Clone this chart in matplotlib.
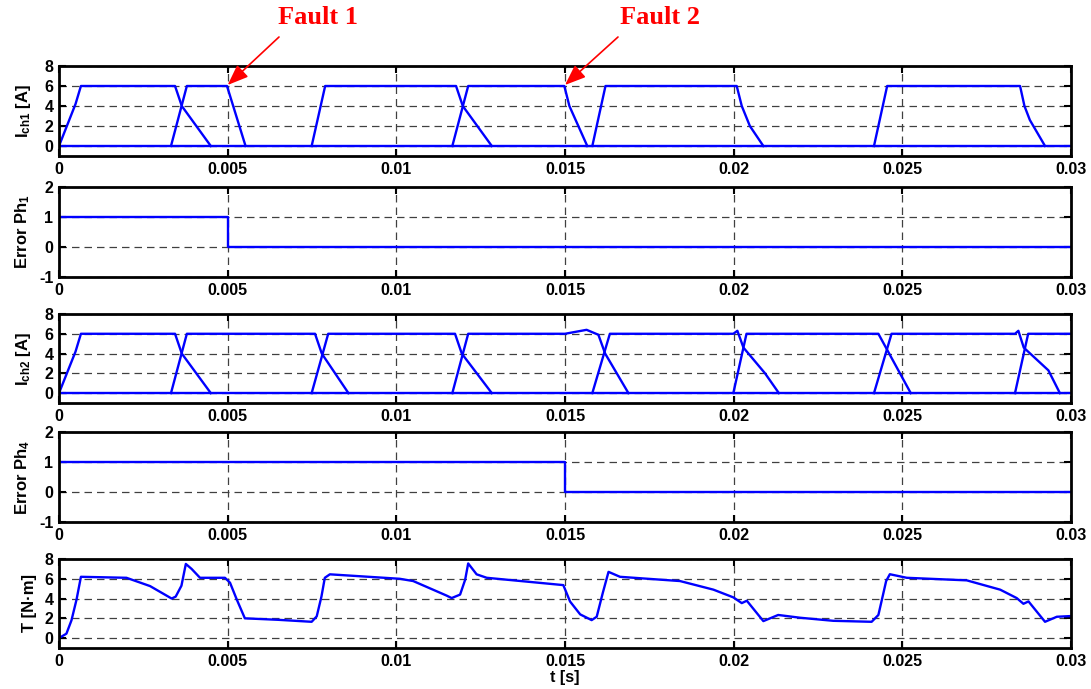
import matplotlib
matplotlib.use("Agg")
import matplotlib.pyplot as plt

plt.rcParams["font.family"] = ["Liberation Sans", "DejaVu Sans"]
plt.rcParams["font.weight"] = "bold"
plt.rcParams["axes.unicode_minus"] = False
plt.rcParams["mathtext.fontset"] = "custom"
plt.rcParams["mathtext.rm"] = "Liberation Sans:bold"
plt.rcParams["mathtext.bf"] = "Liberation Sans:bold"
plt.rcParams["mathtext.it"] = "Liberation Sans:bold"

# phase currents of channel 1 (one list per conduction pulse)
ich1_t = [
    [0, 0.00049, 0.00065, 0.00344, 0.00364, 0.0045],
    [0.00332, 0.00379, 0.00498, 0.00553],
    [0.00749, 0.00789, 0.01177, 0.01197, 0.01283],
    [0.01166, 0.01213, 0.01498, 0.01513, 0.01566],
    [0.01581, 0.0162, 0.02009, 0.02024, 0.02048, 0.02088],
    [0.02416, 0.02455, 0.02849, 0.02862, 0.02878, 0.02923],
]
ich1_i = [
    [0, 4.2, 6, 6, 4, 0],
    [0, 6, 6, 0],
    [0, 6, 6, 4, 0],
    [0, 6, 6, 4, 0],
    [0, 6, 6, 4, 2, 0],
    [0, 6, 6, 4, 2.6, 0],
]

# phase currents of channel 2
ich2_t = [
    [0, 0.00049, 0.00065, 0.00344, 0.00364, 0.0045],
    [0.00332, 0.00379, 0.00759, 0.00779, 0.00858],
    [0.00749, 0.00798, 0.01174, 0.01194, 0.01283],
    [0.01166, 0.01213, 0.015, 0.01564, 0.01599, 0.01619, 0.01688],
    [0.01581, 0.01633, 0.01999, 0.02011, 0.02029, 0.02093, 0.02134],
    [0.01999, 0.02038, 0.02429, 0.02525],
    [0.02416, 0.02468, 0.02834, 0.02844, 0.0286, 0.02933, 0.02967],
    [0.02834, 0.02873, 0.03],
]
ich2_i = [
    [0, 4.2, 6, 6, 4, 0],
    [0, 6, 6, 4, 0],
    [0, 6, 6, 4, 0],
    [0, 6, 6, 6.4, 5.9, 4, 0],
    [0, 6, 6, 6.3, 4.6, 2.0, 0],
    [0, 6, 6, 0],
    [0, 6, 6, 6.3, 4.6, 2.3, 0],
    [0, 6, 6],
]

# error flags
err1_t = [0, 0.005, 0.005, 0.03]
err1 = [1, 1, 0, 0]
err4_t = [0, 0.015, 0.015, 0.03]
err4 = [1, 1, 0, 0]

# torque
torque_t = [0, 0.00022, 0.00037, 0.00052, 0.00065, 0.002, 0.0027, 0.00334, 0.00346,
            0.00363, 0.00376, 0.00393, 0.00418, 0.00492, 0.00507, 0.00527, 0.00551,
            0.0065, 0.00749, 0.00764, 0.00778, 0.00788, 0.00803, 0.0101, 0.0105,
            0.01149, 0.01164, 0.01189, 0.01204, 0.01213, 0.01238, 0.01268, 0.01495,
            0.01515, 0.01545, 0.01579, 0.01594, 0.01612, 0.01629, 0.01663, 0.01841,
            0.0194, 0.01999, 0.02024, 0.02039, 0.02088, 0.02132, 0.02197, 0.02295,
            0.02409, 0.02429, 0.02444, 0.02452, 0.02463, 0.02513, 0.02691, 0.0279,
            0.02839, 0.02859, 0.02874, 0.02923, 0.02958, 0.03]
torque = [0, 0.45, 1.8, 3.9, 6.2, 6.1, 5.26, 4.0, 4.2,
          5.3, 7.5, 7.0, 6.1, 6.1, 5.6, 3.9, 2.0,
          1.85, 1.65, 2.2, 4.2, 6.1, 6.45, 6.0, 5.77,
          4.3, 4.05, 4.4, 5.9, 7.55, 6.45, 6.1, 5.36,
          3.7, 2.4, 1.82, 2.16, 4.57, 6.7, 6.2, 5.77,
          4.9, 4.12, 3.54, 3.78, 1.72, 2.34, 2.06, 1.75,
          1.65, 2.34, 4.57, 5.77, 6.46, 6.1, 5.84, 4.9,
          4.05, 3.47, 3.71, 1.65, 2.16, 2.23]

xticks = [0, 0.005, 0.01, 0.015, 0.02, 0.025, 0.03]
xtick_labels = ["0", "0.005", "0.01", "0.015", "0.02", "0.025", "0.03"]

blue = "#0000ff"
W, H = 1091, 689
fig = plt.figure(figsize=(W / 100, H / 100), dpi=100)

# (top, bottom) of each panel in pixels
panels = [(66, 156), (187, 277), (314, 403), (432, 522), (559, 648)]
label_x = [33, 32, 33, 32, 37]   # right edge of y label, pixels
left, right = 59, 1071
axes = []
for top, bot in panels:
    ax = fig.add_axes([left / W, 1 - bot / H, (right - left) / W, (bot - top) / H])
    axes.append(ax)

ax1, ax2, ax3, ax4, ax5 = axes

ax1.plot([0, 0.03], [0, 0], color=blue, lw=1.7)
for tt, ii in zip(ich1_t, ich1_i):
    ax1.plot(tt, ii, color=blue, lw=1.7)
ax1.set_ylim(-1, 8)
ax1.set_yticks([0, 2, 4, 6, 8])
ax1.set_ylabel(r"$\mathbf{I_{ch1}}$ [A]")

ax2.plot(err1_t, err1, color=blue, lw=1.7)
ax2.set_ylim(-1, 2)
ax2.set_yticks([-1, 0, 1, 2])
ax2.set_ylabel(r"Error Ph$_\mathbf{1}$")

ax3.plot([0, 0.03], [0, 0], color=blue, lw=1.7)
for tt, ii in zip(ich2_t, ich2_i):
    ax3.plot(tt, ii, color=blue, lw=1.7)
ax3.set_ylim(-1, 8)
ax3.set_yticks([0, 2, 4, 6, 8])
ax3.set_ylabel(r"$\mathbf{I_{ch2}}$ [A]")

ax4.plot(err4_t, err4, color=blue, lw=1.7)
ax4.set_ylim(-1, 2)
ax4.set_yticks([-1, 0, 1, 2])
ax4.set_ylabel(r"Error Ph$_\mathbf{4}$")

ax5.plot(torque_t, torque, color=blue, lw=1.7)
ax5.set_ylim(-1, 8)
ax5.set_yticks([0, 2, 4, 6, 8])
ax5.set_ylabel("T [N\u00b7m]")
ax5.set_xlabel("t [s]", fontsize=11.5, fontweight="bold", labelpad=1)

for ax, lx in zip(axes, label_x):
    ax.set_xlim(0, 0.03)
    ax.set_xticks(xticks)
    ax.set_xticklabels(xtick_labels)
    ax.grid(True, color="0.25", linestyle=(0, (6, 4)), lw=0.9)
    ax.tick_params(direction="in", top=True, right=True, length=5, width=1.5,
                   labelsize=11.5, pad=4)
    for lab in ax.get_xticklabels() + ax.get_yticklabels():
        lab.set_fontweight("bold")
    for sp in ax.spines.values():
        sp.set_linewidth(2)
    ax.yaxis.label.set_fontsize(12)
    ax.yaxis.label.set_fontweight("bold")
    ax.yaxis.set_label_coords((lx - left) / (right - left), 0.5)

# fault markers
for label, tf, tx, ax_x, ax_y in [("Fault 1", 0.005, 318, 279, 37),
                                   ("Fault 2", 0.015, 660, 618, 37)]:
    fig.text(tx / W, 1 - 18 / H, label, color="red", fontsize=19,
             fontweight="bold", family="Liberation Serif", ha="center", va="center")
    ax1.annotate("", xy=(tf, 6.1), xycoords="data",
                 xytext=(ax_x, H - ax_y), textcoords="figure pixels",
                 arrowprops=dict(arrowstyle="-|>,head_length=0.9,head_width=0.35",
                                 color="red", lw=1.2, mutation_scale=14,
                                 shrinkA=0, shrinkB=0),
                 annotation_clip=False)

fig.savefig("out.png", dpi=100)
